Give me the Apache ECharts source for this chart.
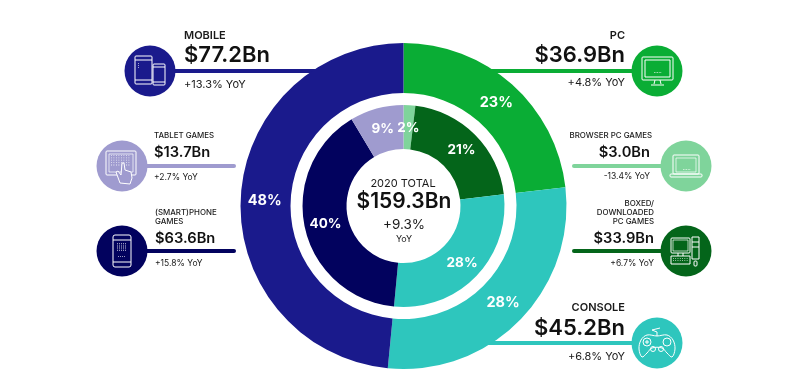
<!DOCTYPE html>
<html><head><meta charset="utf-8">
<style>html,body{margin:0;padding:0;background:#fff}#c{width:800px;height:389px}</style>
<script src="https://cdn.jsdelivr.net/npm/echarts@6/dist/echarts.min.js"></script></head>
<body><div id="c"></div>
<script>
const outerNames = ['PC','Console','Mobile'];
const outerValues = [36.9,45.2,77.2];
const innerNames = ['Browser PC games','Boxed/downloaded PC games','Console','(Smart)phone games','Tablet games'];
const innerValues = [3.0,33.9,45.2,63.6,13.7];
const outerColors = ['#0aad35','#2ec6bd','#1a1a8c'];
const innerColors = ['#7fd49b','#04651a','#2ec6bd','#02025e','#9f9bcf'];
const outerNudge = [[-1,2],[-1,-2],[2,1]];
const innerNudge = [[0,4],[0,2],[0,0],[2,0],[1,2]];
const FONT = 'Inter, "Noto Sans", sans-serif';
const chart = echarts.init(document.getElementById('c'),null,{renderer:'canvas'});
const g = [];
function txt(x,y,s,size,weight,align,color){
  g.push({type:'text',x:x,y:y,z:5,style:{text:s,font:(weight||500)+' '+size+'px '+FONT,fill:color||'#1a1a1a',align:align||'left',verticalAlign:'middle'}});
}
function line(x1,x2,y,h,color,round){
  g.push({type:'rect',z:1,shape:{x:x1,y:y-h/2,width:x2-x1,height:h,r:round?h/2:0},style:{fill:color}});
}
function disc(x,y,r,color){g.push({type:'circle',z:2,shape:{cx:x,cy:y,r:r},style:{fill:color}});}
function R(x,y,w,h,lw,r){return {type:'rect',shape:{x,y,width:w,height:h,r:r||0},style:{fill:'none',stroke:'#fff',lineWidth:lw||1}};}
function L(x1,y1,x2,y2,lw){return {type:'line',shape:{x1,y1,x2,y2},style:{stroke:'#fff',lineWidth:lw||1}};}
function C(x,y,r,lw){return {type:'circle',shape:{cx:x,cy:y,r},style:{fill:'none',stroke:'#fff',lineWidth:lw||1}};}
function D(x,y,w,h,nx,ny){const a=[];for(let i=0;i<nx;i++)for(let j=0;j<ny;j++)a.push({type:'rect',shape:{x:x+i*w/nx,y:y+j*h/ny,width:0.8,height:0.8},style:{fill:'#fff'}});return a;}
function icon(x,y,kids){kids.forEach((k,i)=>{k.z=3;k.zlevel=0;});g.push({type:'group',x:x,y:y,children:kids});}

// leaders and discs
line(150,325,71,4,outerColors[2]);
disc(150,71,25.5,outerColors[2]);
line(122,236,166,4,innerColors[4],true);
disc(122,166,25.5,innerColors[4]);
line(122,236,251,4,innerColors[3],true);
disc(122,251,25.5,innerColors[3]);
line(490,657,71,4,outerColors[0]);
disc(657,71,25.5,outerColors[0]);
line(572,686,166,4,innerColors[0],true);
disc(686,166,25.5,innerColors[0]);
line(572,686,251,4,innerColors[1],true);
disc(686,251,25.5,innerColors[1]);
line(480,657,343,4,outerColors[1]);
disc(657,343,25.5,outerColors[1]);

// icons
icon(150,71,[R(-15,-15,17,28,1,1),L(-15,-11,2,-11),L(-15,9,2,9),R(3,-7,12,21,1,1),L(3,-4,15,-4),L(3,11,15,11),...D(-12,-8,1,6,1,3)]);
icon(122,166,[R(-16,-15,30,24,1,1),R(-13,-12,24,18,0.7),...D(-11,-11,20,12,8,5),
 {type:'polygon',shape:{points:[[-2,17],[-6,6],[-4,5],[-1,9],[0,-3],[2,-3],[3,4],[9,6],[10,12],[8,18]]},style:{fill:'#9f9bcf',stroke:'#fff',lineWidth:1}}]);
icon(122,251,[R(-9,-16,18,32,1,2),L(-9,-11,9,-11),L(-9,11,9,11),...D(-5,-8,10,9,5,5),...D(-4,5,8,2,4,1)]);
icon(657,71,[R(-15,-14,31,23,1,1),R(-12,-11,25,17,1),...D(-3,1,8,1,5,1),L(-2,9,-3,13),L(3,9,4,13),L(-6,14,7,14)]);
icon(686,166,[R(-13,-11,26,19,1,1),R(-10,-8,20,14,0.7),...D(-3,3,8,1,5,1),R(-16,8,32,3,1,1)]);
icon(686,251,[R(-15,-13,19,15,1,1),R(-13,-11,15,11,0.7),R(6,-14,7,22,1),L(6,-9,13,-9),L(6,-4,13,-4),R(-15,5,19,8,1),...D(-13,7,16,4,7,2),L(-8,2,-8,5),L(-3,2,-3,5),R(8,10,3,5,1,1)]);
icon(657,343,[{type:'polygon',shape:{smooth:0.35,points:[[-15,14],[-18,6],[-16,-3],[-10,-8],[0,-7],[10,-8],[16,-3],[18,6],[15,14],[10,10],[5,5],[-5,5],[-10,10]]},style:{fill:'none',stroke:'#fff',lineWidth:1}},
 {type:'polyline',shape:{points:[[0,-7],[0,-11],[-5,-13],[3,-15]]},style:{fill:'none',stroke:'#fff',lineWidth:1}},
 C(-10,-1,4,1),C(10,-1,4,1),C(-4,6,2.5,1),C(4,6,2.5,1),L(-12,-1,-8,-1),L(-10,-3,-10,1)]);

// callout text
txt(184,36,'MOBILE',11,600);
txt(184,55,'$77.2Bn',22,600,'left','#111');
txt(184,85,'+13.3% YoY',11,400);
txt(154,136,'TABLET GAMES',7.9,500);
txt(154,153,'$13.7Bn',14.7,600,'left','#111');
txt(154,177,'+2.7% YoY',8.5,400);
txt(155,213,'(SMART)PHONE',7.9,500);
txt(155,222,'GAMES',7.9,500);
txt(155,239,'$63.6Bn',14.7,600,'left','#111');
txt(155,263,'+15.8% YoY',8.5,400);
txt(625,36,'PC',11,600,'right');
txt(625,55,'$36.9Bn',22,600,'right','#111');
txt(625,83,'+4.8% YoY',11,400,'right');
txt(652,136,'BROWSER PC GAMES',7.9,500,'right');
txt(650,153,'$3.0Bn',14.7,600,'right','#111');
txt(650,176,'-13.4% YoY',8.5,400,'right');
txt(654,204,'BOXED/',7.9,500,'right');
txt(654,213,'DOWNLOADED',7.9,500,'right');
txt(654,222,'PC GAMES',7.9,500,'right');
txt(654,239,'$33.9Bn',14.7,600,'right','#111');
txt(654,263,'+6.7% YoY',8.5,400,'right');
txt(625,308,'CONSOLE',11,600,'right');
txt(625,328,'$45.2Bn',22,600,'right','#111');
txt(625,357,'+6.8% YoY',11,400,'right');
// centre
txt(403,184,'2020 TOTAL',11,400,'center');
txt(404,202,'$159.3Bn',21,600,'center','#111');
txt(404,225,'+9.3%',13.5,400,'center');
txt(404,239,'YoY',9,400,'center');

const pct = p => Math.round(p.percent)+'%';
function pie(names,values,colors,nudge,radius,fs){
  return {type:'pie',z:2,center:[403.5,206],radius:radius,startAngle:90,clockwise:true,animation:false,silent:true,
    percentPrecision:4,
    label:{show:true,position:'inside',formatter:pct,color:'#fff',fontFamily:FONT,fontWeight:700,fontSize:fs},
    labelLine:{show:false},
    data:names.map((n,i)=>({name:n,value:values[i],itemStyle:{color:colors[i]},label:{offset:nudge[i]}}))};
}
chart.setOption({animation:false,backgroundColor:'#fff',
  series:[pie(outerNames,outerValues,outerColors,outerNudge,[113,163],14.5),pie(innerNames,innerValues,innerColors,innerNudge,[57,101],13.5)],
  graphic:{elements:g}});
</script></body></html>
